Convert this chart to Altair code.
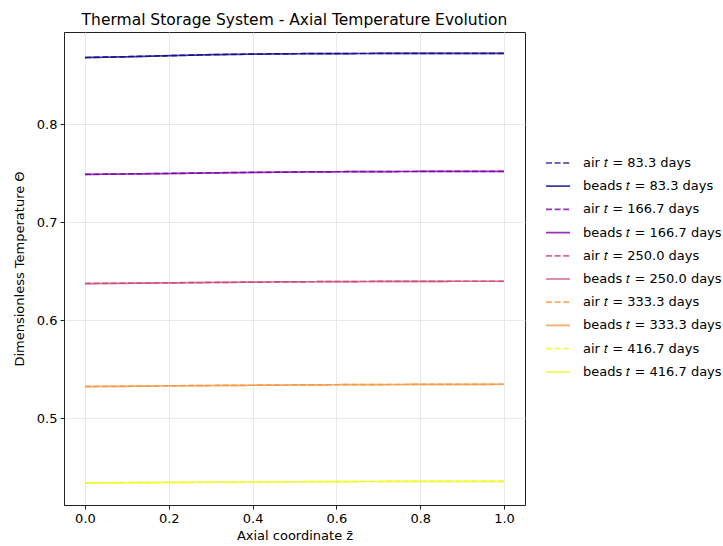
import altair as alt
import pandas as pd

# Axial coordinate samples
z_vals = [0.0, 0.1, 0.2, 0.3, 0.4, 0.5, 0.6, 0.7, 0.8, 0.9, 1.0]

times = ["83.3", "166.7", "250.0", "333.3", "416.7"]
base_colors = ["#0d0887", "#7e03a8", "#cc4778", "#f89540", "#f0f921"]

# Dimensionless temperature profiles
air_83 = [0.8681, 0.8689, 0.8700, 0.8710, 0.8716, 0.8719, 0.8721, 0.8722, 0.8722, 0.8722, 0.8722]
beads_83 = [0.8680, 0.8688, 0.8699, 0.8709, 0.8715, 0.8719, 0.8721, 0.8722, 0.8722, 0.8722, 0.8722]
air_167 = [0.7489, 0.7493, 0.7498, 0.7504, 0.7509, 0.7513, 0.7515, 0.7517, 0.7518, 0.7519, 0.7519]
beads_167 = [0.7488, 0.7492, 0.7497, 0.7503, 0.7508, 0.7512, 0.7515, 0.7517, 0.7518, 0.7519, 0.7519]
air_250 = [0.6375, 0.6378, 0.6382, 0.6386, 0.6389, 0.6392, 0.6394, 0.6396, 0.6397, 0.6398, 0.6398]
beads_250 = [0.6374, 0.6377, 0.6381, 0.6385, 0.6389, 0.6392, 0.6394, 0.6396, 0.6397, 0.6398, 0.6398]
air_333 = [0.5324, 0.5327, 0.5331, 0.5334, 0.5337, 0.5340, 0.5342, 0.5344, 0.5345, 0.5346, 0.5347]
beads_333 = [0.5323, 0.5326, 0.5330, 0.5334, 0.5337, 0.5340, 0.5342, 0.5344, 0.5345, 0.5346, 0.5347]
air_417 = [0.4341, 0.4343, 0.4345, 0.4348, 0.4350, 0.4352, 0.4354, 0.4355, 0.4356, 0.4357, 0.4357]
beads_417 = [0.4340, 0.4342, 0.4345, 0.4348, 0.4350, 0.4352, 0.4354, 0.4355, 0.4356, 0.4357, 0.4357]

air_series = [air_83, air_167, air_250, air_333, air_417]
beads_series = [beads_83, beads_167, beads_250, beads_333, beads_417]

x_ticks = [0.0, 0.2, 0.4, 0.6, 0.8, 1.0]
y_ticks = [0.5, 0.6, 0.7, 0.8]

T = "\U0001D461"  # mathematical italic t

rows = []
labels = []
color_range = []
dash_range = []
k = 0
for t, col, air, beads in zip(times, base_colors, air_series, beads_series):
    for kind, vals, dash in (("air", air, [6, 2.6]), ("beads", beads, [1, 0])):
        lab = f"{kind} {T} = {t} days"
        labels.append(lab)
        color_range.append(col)
        dash_range.append(dash)
        for zv, v in zip(z_vals, vals):
            rows.append({"z": zv, "theta": v, "series": lab, "ord": k})
        k += 1

df = pd.DataFrame(rows)

legend_cfg = dict(
    title=None,
    orient="none",
    legendX=481,
    legendY=118,
    symbolType="stroke",
    symbolSize=576,
    symbolStrokeWidth=1.7,
    symbolOpacity=0.8,
    labelFontSize=13,
    labelFont="DejaVu Sans",
    labelColor="#000000",
    labelOffset=12,
    labelLimit=300,
    rowPadding=3.2,
    padding=0,
)

chart = (
    alt.Chart(df)
    .mark_line(strokeWidth=1.7, opacity=0.8)
    .encode(
        x=alt.X(
            "z:Q",
            scale=alt.Scale(domain=[-0.05, 1.05], nice=False, zero=False),
            axis=alt.Axis(values=x_ticks, format=".1f", title="Axial coordinate z\u0304"),
        ),
        y=alt.Y(
            "theta:Q",
            scale=alt.Scale(domain=[0.4115, 0.8941], nice=False, zero=False),
            axis=alt.Axis(values=y_ticks, format=".1f", title="Dimensionless Temperature \u0398"),
        ),
        color=alt.Color(
            "series:N",
            scale=alt.Scale(domain=labels, range=color_range),
            legend=alt.Legend(**legend_cfg),
        ),
        strokeDash=alt.StrokeDash(
            "series:N",
            scale=alt.Scale(domain=labels, range=dash_range),
            legend=alt.Legend(**legend_cfg),
        ),
        order=alt.Order("ord:Q"),
    )
    .properties(
        width=461,
        height=473,
        title=alt.Title(
            "Thermal Storage System - Axial Temperature Evolution",
            fontSize=15.5,
            fontWeight="normal",
            font="DejaVu Sans",
            color="#000000",
            anchor="middle",
            offset=4,
        ),
        autosize=alt.AutoSizeParams(type="none"),
        padding={"left": 64, "top": 32, "right": 198, "bottom": 41},
    )
    .configure_view(stroke="#222222", strokeWidth=1)
    .configure_axis(
        labelFont="DejaVu Sans",
        titleFont="DejaVu Sans",
        labelFontSize=13,
        titleFontSize=13,
        titleFontWeight="normal",
        labelColor="#000000",
        titleColor="#000000",
        domainColor="#222222",
        domainWidth=1,
        tickColor="#222222",
        tickSize=4,
        tickWidth=1,
        labelPadding=3,
        gridColor="#e6e6e6",
        gridWidth=0.9,
    )
    .configure_axisX(titlePadding=4, labelFlush=False)
    .configure_axisY(titlePadding=10, labelFlush=False)
)

chart.save("out.html", embed_options={"renderer": "svg", "actions": False})
